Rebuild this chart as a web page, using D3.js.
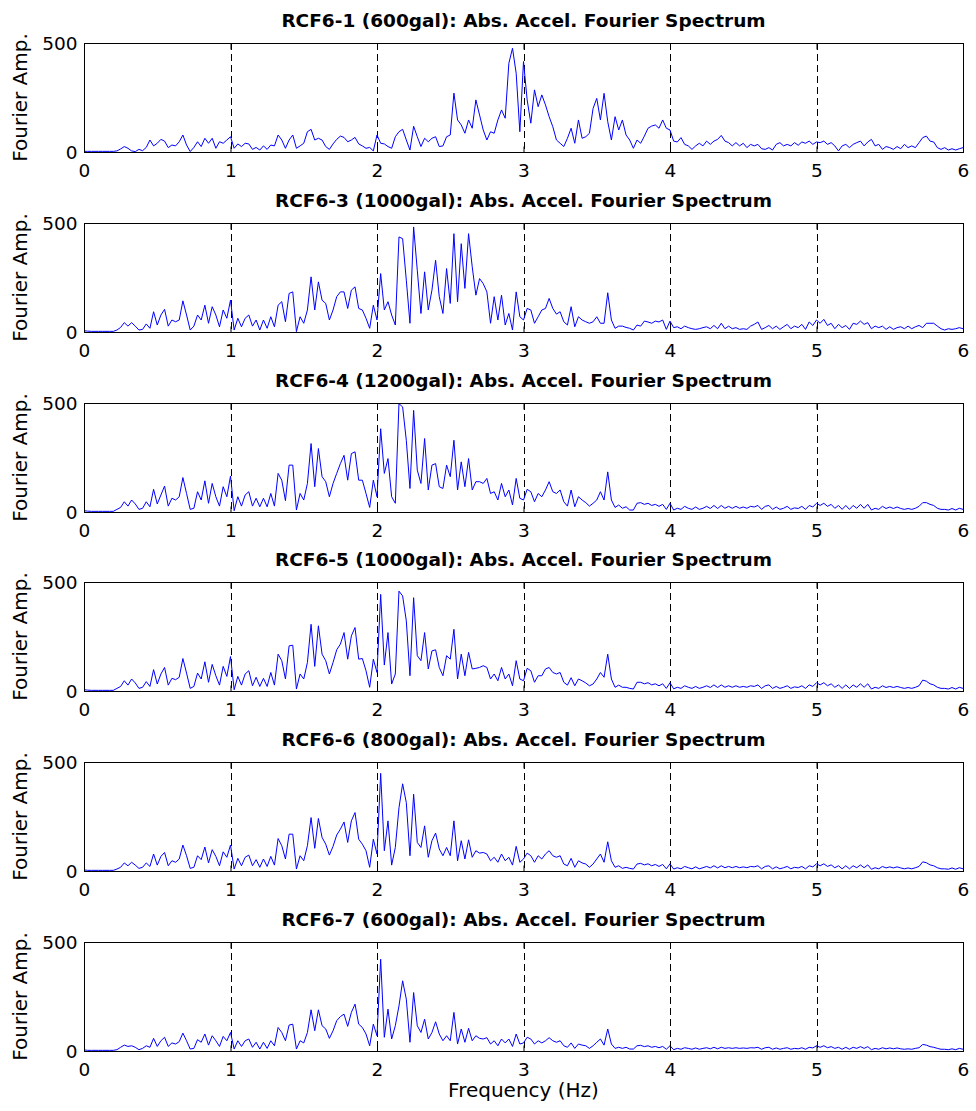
<!DOCTYPE html>
<html>
<head>
<meta charset="utf-8">
<script src="https://cdn.jsdelivr.net/npm/d3@7"></script>
<style>
  body { margin: 0; background: #fff; }
  text { font-family: "DejaVu Sans", "Liberation Sans", Arial, sans-serif; }
</style>
</head>
<body>
<div id="chart"></div>
<script>
// spectra sampled every 0.025 Hz from 0 to 6 Hz, one row = 0.2 Hz
const FREQ_STEP = 0.025;
const X_TICKS = [0, 1, 2, 3, 4, 5, 6];
const GRID_X = [1, 2, 3, 4, 5];
const Y_TICKS = [0, 500];

const TITLES = [
  "RCF6-1 (600gal): Abs. Accel. Fourier Spectrum",
  "RCF6-3 (1000gal): Abs. Accel. Fourier Spectrum",
  "RCF6-4 (1200gal): Abs. Accel. Fourier Spectrum",
  "RCF6-5 (1000gal): Abs. Accel. Fourier Spectrum",
  "RCF6-6 (800gal): Abs. Accel. Fourier Spectrum",
  "RCF6-7 (600gal): Abs. Accel. Fourier Spectrum",
];

const RCF6_1 = [
  3, 3, 3, 3, 3, 3, 3, 3,
  3, 5, 14, 25, 17, 5, 2, 12,
  6, 21, 55, 28, 40, 58, 50, 20,
  32, 28, 47, 78, 32, 2, 21, 47,
  25, 63, 40, 63, 17, 47, 40, 55,
  70, 17, 37, 25, 40, 37, 12, 21,
  9, 28, 12, 32, 28, 78, 55, 17,
  55, 78, 17, 28, 40, 93, 104, 55,
  63, 55, 25, 12, 37, 58, 73, 67,
  47, 55, 67, 37, 28, 17, 21, 5,
  78, 40, 37, 25, 17, 70, 93, 104,
  55, 9, 118, 70, 25, 63, 47, 63,
  70, 25, 28, 70, 78, 270, 147, 124,
  86, 147, 109, 239, 170, 101, 55, 93,
  86, 147, 193, 155, 407, 476, 361, 93,
  415, 239, 132, 285, 208, 262, 216, 162,
  116, 55, 40, 25, 63, 109, 40, 147,
  63, 70, 86, 200, 246, 147, 269, 139,
  55, 162, 101, 147, 78, 55, 17, 55,
  40, 73, 109, 119, 124, 109, 147, 109,
  101, 50, 46, 66, 35, 28, 12, 28,
  40, 28, 50, 35, 50, 58, 76, 50,
  43, 28, 43, 28, 40, 20, 35, 28,
  35, 15, 12, 20, 9, 35, 43, 28,
  35, 28, 43, 31, 46, 40, 50, 35,
  46, 43, 50, 35, 43, 28, 5, 28,
  35, 20, 35, 43, 50, 28, 46, 58,
  28, 35, 12, 25, 20, 12, 25, 15,
  35, 20, 28, 20, 43, 66, 73, 50,
  46, 20, 12, 20, 9, 15, 9, 15,
  20,
];

const RCF6_3 = [
  6, 4, 3, 3, 3, 3, 3, 3,
  3, 9, 21, 43, 27, 43, 27, 9,
  12, 37, 17, 93, 32, 78, 104, 27,
  55, 47, 55, 143, 78, 9, 27, 78,
  55, 123, 40, 116, 78, 24, 101, 63,
  146, 9, 63, 24, 63, 78, 27, 55,
  9, 55, 17, 70, 24, 123, 139, 47,
  177, 184, 2, 70, 40, 101, 253, 101,
  230, 146, 131, 55, 101, 162, 184, 184,
  108, 192, 207, 108, 101, 63, 17, 123,
  55, 268, 101, 139, 78, 32, 436, 428,
  238, 40, 482, 283, 85, 276, 101, 192,
  329, 162, 85, 291, 131, 451, 139, 405,
  200, 451, 299, 169, 245, 222, 184, 40,
  162, 55, 169, 32, 85, 9, 184, 70,
  55, 108, 101, 40, 70, 101, 108, 154,
  108, 82, 93, 47, 32, 116, 24, 70,
  55, 47, 40, 47, 70, 40, 40, 180,
  55, 17, 27, 27, 21, 17, 9, 32,
  27, 50, 46, 40, 50, 46, 55, 12,
  50, 20, 24, 15, 27, 20, 15, 12,
  15, 20, 24, 15, 30, 15, 40, 15,
  27, 15, 20, 12, 15, 12, 27, 35,
  46, 12, 20, 30, 15, 27, 12, 24,
  35, 15, 27, 20, 35, 12, 46, 30,
  55, 40, 58, 30, 40, 15, 35, 20,
  30, 12, 40, 35, 50, 35, 43, 15,
  27, 20, 27, 12, 24, 12, 20, 24,
  15, 27, 15, 24, 30, 20, 40, 40,
  40, 27, 15, 9, 15, 12, 15, 20,
  15,
];

const RCF6_4 = [
  6, 4, 3, 3, 3, 3, 3, 3,
  3, 12, 21, 47, 27, 55, 37, 12,
  17, 47, 24, 104, 37, 78, 119, 27,
  63, 55, 70, 158, 85, 12, 17, 93,
  55, 143, 40, 131, 70, 27, 116, 70,
  165, 6, 70, 27, 78, 93, 27, 63,
  24, 63, 24, 85, 27, 177, 146, 52,
  215, 215, 9, 85, 55, 131, 314, 116,
  291, 162, 139, 70, 131, 177, 222, 260,
  146, 268, 276, 146, 146, 85, 21, 146,
  70, 382, 177, 245, 70, 40, 497, 482,
  329, 108, 466, 192, 131, 337, 101, 215,
  222, 116, 108, 215, 162, 329, 101, 230,
  116, 245, 101, 139, 139, 131, 154, 85,
  93, 55, 131, 70, 101, 32, 154, 63,
  55, 104, 93, 47, 85, 70, 101, 139,
  93, 85, 101, 47, 27, 101, 24, 70,
  55, 43, 27, 40, 55, 93, 55, 184,
  55, 21, 32, 17, 24, 9, 9, 40,
  43, 35, 40, 30, 35, 26, 35, 12,
  40, 9, 17, 12, 26, 17, 12, 23,
  12, 17, 26, 16, 30, 16, 30, 17,
  26, 17, 26, 17, 23, 17, 26, 23,
  30, 12, 26, 30, 12, 23, 12, 17,
  26, 12, 19, 16, 26, 12, 30, 23,
  40, 30, 40, 26, 35, 17, 30, 12,
  30, 12, 30, 17, 35, 17, 35, 9,
  17, 12, 26, 16, 23, 16, 23, 16,
  12, 16, 12, 17, 26, 43, 43, 35,
  30, 17, 12, 12, 9, 16, 9, 17,
  12,
];

const RCF6_5 = [
  6, 4, 3, 3, 3, 3, 3, 3,
  3, 12, 21, 47, 27, 55, 37, 12,
  17, 43, 21, 98, 32, 78, 108, 27,
  58, 52, 63, 149, 82, 12, 21, 82,
  55, 134, 40, 122, 70, 27, 113, 67,
  158, 6, 67, 27, 78, 93, 24, 63,
  21, 58, 21, 85, 27, 169, 139, 55,
  207, 210, 9, 78, 55, 131, 306, 113,
  299, 169, 139, 78, 131, 189, 215, 268,
  146, 253, 291, 146, 149, 93, 17, 146,
  85, 443, 119, 268, 32, 78, 458, 436,
  322, 70, 428, 162, 139, 268, 101, 184,
  189, 108, 70, 162, 146, 283, 55, 169,
  70, 177, 101, 104, 108, 116, 108, 55,
  78, 47, 108, 55, 78, 24, 139, 55,
  47, 104, 93, 40, 70, 70, 101, 108,
  85, 78, 85, 40, 27, 61, 24, 55,
  47, 37, 24, 32, 55, 85, 63, 169,
  55, 17, 27, 17, 17, 12, 9, 40,
  40, 33, 38, 28, 33, 24, 33, 12,
  38, 10, 17, 12, 24, 17, 12, 21,
  12, 17, 24, 16, 28, 16, 28, 17,
  24, 17, 24, 17, 21, 17, 24, 21,
  28, 12, 24, 28, 12, 21, 12, 17,
  24, 12, 19, 16, 24, 12, 28, 21,
  38, 28, 38, 24, 33, 17, 28, 12,
  28, 12, 28, 17, 33, 17, 33, 9,
  17, 12, 24, 16, 21, 16, 21, 16,
  12, 16, 12, 17, 24, 50, 45, 33,
  28, 17, 12, 12, 9, 16, 9, 17,
  12,
];

const RCF6_6 = [
  5, 3, 3, 3, 3, 3, 3, 3,
  3, 9, 17, 37, 24, 40, 27, 12,
  17, 37, 21, 78, 27, 67, 85, 24,
  47, 40, 55, 119, 70, 12, 17, 70,
  52, 110, 37, 98, 67, 24, 88, 63,
  119, 9, 58, 24, 63, 73, 24, 52,
  17, 55, 21, 67, 27, 149, 116, 55,
  169, 169, 9, 70, 47, 116, 245, 104,
  241, 154, 123, 73, 113, 165, 192, 225,
  131, 230, 268, 146, 123, 93, 17, 146,
  78, 448, 93, 230, 27, 108, 290, 400,
  314, 70, 352, 131, 108, 207, 63, 139,
  174, 101, 70, 108, 70, 230, 47, 139,
  55, 143, 63, 93, 82, 85, 78, 47,
  63, 40, 78, 47, 63, 27, 113, 40,
  55, 82, 70, 40, 70, 55, 78, 93,
  70, 63, 70, 32, 24, 58, 17, 47,
  37, 32, 17, 32, 55, 78, 40, 134,
  47, 17, 24, 12, 17, 12, 9, 32,
  35, 28, 33, 24, 30, 21, 30, 10,
  33, 9, 15, 10, 21, 15, 10, 19,
  10, 15, 21, 14, 24, 14, 24, 15,
  21, 15, 21, 15, 19, 15, 21, 19,
  24, 10, 21, 24, 10, 19, 10, 15,
  21, 10, 17, 14, 21, 10, 24, 19,
  33, 24, 33, 21, 28, 15, 24, 10,
  24, 10, 24, 15, 28, 15, 28, 8,
  15, 10, 21, 14, 19, 14, 19, 14,
  10, 14, 10, 15, 21, 42, 38, 28,
  24, 15, 10, 10, 8, 14, 8, 15,
  10,
];

const RCF6_7 = [
  5, 3, 3, 3, 3, 3, 3, 3,
  3, 6, 17, 27, 21, 24, 17, 6,
  12, 24, 17, 58, 21, 47, 63, 21,
  37, 32, 43, 82, 47, 9, 12, 52,
  40, 78, 27, 70, 47, 21, 67, 47,
  85, 9, 47, 21, 47, 55, 17, 40,
  9, 40, 12, 47, 24, 108, 85, 47,
  119, 123, 9, 47, 37, 85, 189, 93,
  189, 116, 101, 58, 93, 139, 158, 169,
  113, 177, 215, 123, 108, 78, 24, 123,
  70, 421, 63, 192, 55, 116, 207, 322,
  238, 40, 268, 116, 85, 146, 55, 85,
  134, 78, 47, 70, 47, 177, 32, 101,
  40, 104, 47, 70, 58, 55, 61, 32,
  47, 24, 55, 37, 55, 21, 78, 32,
  37, 63, 55, 32, 47, 37, 47, 61,
  47, 40, 47, 24, 17, 37, 12, 32,
  27, 24, 12, 24, 40, 55, 27, 101,
  32, 12, 17, 12, 17, 9, 9, 24,
  26, 20, 24, 17, 21, 15, 21, 8,
  24, 6, 12, 8, 15, 12, 8, 14,
  8, 12, 15, 10, 17, 10, 17, 12,
  15, 12, 15, 12, 14, 12, 15, 14,
  17, 8, 15, 17, 8, 14, 8, 12,
  15, 8, 12, 10, 15, 8, 17, 14,
  24, 17, 24, 15, 20, 12, 17, 8,
  17, 8, 17, 12, 20, 12, 20, 6,
  12, 8, 15, 10, 14, 10, 14, 10,
  8, 10, 8, 12, 15, 30, 27, 20,
  17, 12, 8, 8, 6, 10, 6, 12,
  8,
];

const SERIES = [RCF6_1, RCF6_3, RCF6_4, RCF6_5, RCF6_6, RCF6_7];

const width = 976;
const height = 1111;
const PLOT_LEFT = 84;
const PLOT_RIGHT = 963;
const FIRST_TOP = 43;
const PITCH = 179.8;
const PLOT_H = 109;

const svg = d3
  .select("#chart")
  .append("svg")
  .attr("width", width)
  .attr("height", height);

const x = d3.scaleLinear().domain([0, 6]).range([PLOT_LEFT, PLOT_RIGHT]);

SERIES.forEach((values, i) => {
  const top = Math.round(FIRST_TOP + i * PITCH);
  const bottom = top + PLOT_H;
  const y = d3.scaleLinear().domain([0, 500]).range([bottom, top]);
  const g = svg.append("g");

  g.append("clipPath")
    .attr("id", `clip${i}`)
    .append("rect")
    .attr("x", PLOT_LEFT)
    .attr("y", top)
    .attr("width", PLOT_RIGHT - PLOT_LEFT)
    .attr("height", PLOT_H);

  // vertical dashed grid
  g.selectAll(".grid")
    .data(GRID_X)
    .enter()
    .append("line")
    .attr("class", "grid")
    .attr("x1", (d) => Math.round(x(d)) + 0.5)
    .attr("x2", (d) => Math.round(x(d)) + 0.5)
    .attr("y1", top)
    .attr("y2", bottom)
    .attr("stroke", "#000")
    .attr("stroke-width", 1)
    .attr("stroke-dasharray", "7,4");

  const line = d3
    .line()
    .x((d, j) => x(j * FREQ_STEP))
    .y((d) => y(d));

  g.append("path")
    .datum(values)
    .attr("clip-path", `url(#clip${i})`)
    .attr("fill", "none")
    .attr("stroke", "#0000ff")
    .attr("stroke-width", 1)
    .attr("d", line);

  // axes, ticks pointing inward
  const xAxis = g
    .append("g")
    .attr("transform", `translate(0,${bottom + 0.5})`)
    .call(
      d3.axisBottom(x)
        .tickValues(X_TICKS)
        .tickFormat(d3.format("d"))
        .tickSizeOuter(0)
        .tickSizeInner(-6)
    );
  xAxis.select(".domain").remove();
  xAxis
    .selectAll("text")
    .attr("y", 24)
    .attr("dy", null)
    .attr("fill", "#000")
    .style("font-size", "18.5px");

  const xTop = g
    .append("g")
    .attr("transform", `translate(0,${top + 0.5})`)
    .call(d3.axisTop(x).tickValues(X_TICKS).tickSizeOuter(0).tickSizeInner(-6).tickFormat(""));
  xTop.select(".domain").remove();

  const yAxis = g
    .append("g")
    .attr("transform", `translate(${PLOT_LEFT + 0.5},0)`)
    .call(
      d3.axisLeft(y)
        .tickValues(Y_TICKS)
        .tickFormat(d3.format("d"))
        .tickSizeOuter(0)
        .tickSizeInner(0)
        .tickPadding(7)
    );
  yAxis.select(".domain").remove();
  yAxis
    .selectAll("text")
    .attr("dy", "0.36em")
    .attr("fill", "#000")
    .style("font-size", "18.5px");

  g.append("rect")
    .attr("x", PLOT_LEFT + 0.5)
    .attr("y", top + 0.5)
    .attr("width", PLOT_RIGHT - PLOT_LEFT)
    .attr("height", PLOT_H)
    .attr("fill", "none")
    .attr("stroke", "#000")
    .attr("stroke-width", 1);

  g.append("text")
    .attr("x", (PLOT_LEFT + PLOT_RIGHT) / 2)
    .attr("y", top - 16.5)
    .attr("text-anchor", "middle")
    .style("font-size", "18.5px")
    .style("font-weight", "bold")
    .text(TITLES[i]);

  g.append("text")
    .attr("transform", `translate(26.5,${(top + bottom) / 2}) rotate(-90)`)
    .attr("text-anchor", "middle")
    .style("font-size", "20px")
    .text("Fourier Amp.");
});

svg
  .append("text")
  .attr("x", (PLOT_LEFT + PLOT_RIGHT) / 2)
  .attr("y", 1097)
  .attr("text-anchor", "middle")
  .style("font-size", "20px")
  .text("Frequency (Hz)");
</script>
</body>
</html>
